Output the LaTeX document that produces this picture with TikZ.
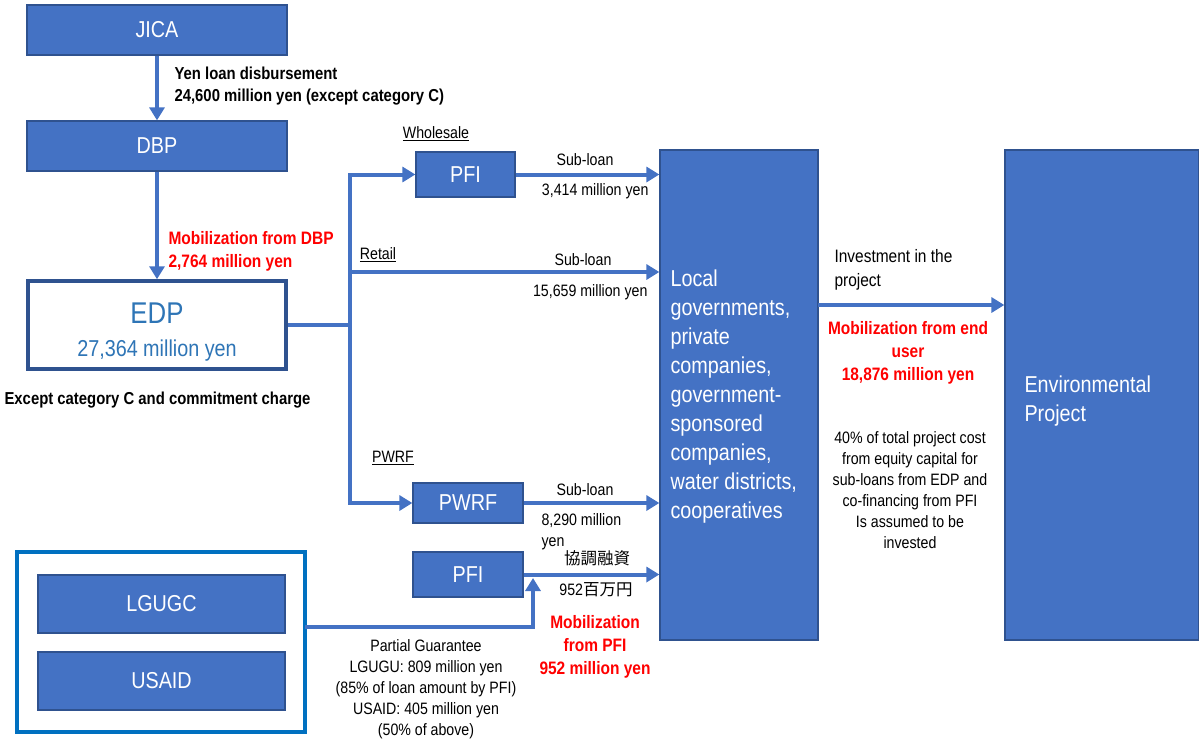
\documentclass[tikz,border=0pt]{standalone}
\usepackage{fontspec}
\setmainfont{Liberation Sans}[FakeStretch=0.86]
\newfontfamily\cjk{Noto Sans CJK JP}
\usetikzlibrary{arrows.meta, positioning, calc}

\definecolor{boxblue}{HTML}{4472C4}
\definecolor{edgeblue}{HTML}{2F528F}
\definecolor{textblue}{HTML}{2E75B6}
\definecolor{frameblue}{HTML}{0070C0}
\definecolor{mobred}{HTML}{FF0000}

\begin{document}
\begin{tikzpicture}[
  x=1pt, y=-1pt,
  org/.style={draw=edgeblue, fill=boxblue, line width=1.3pt, text=white, font=\fontsize{23}{27}\selectfont},
  flow/.style={draw=boxblue, line width=4pt, -{Triangle[length=13pt,width=15pt]}},
  link/.style={draw=boxblue, line width=4pt},
  note/.style={font=\fontsize{16.5}{21}\selectfont, align=center},
  boldnote/.style={font=\bfseries\fontsize{17.3}{22}\selectfont, align=left},
  mob/.style={font=\bfseries\fontsize{18}{23}\selectfont, text=mobred, align=center}
]
\useasboundingbox (0,0) rectangle (1199,742);

% Organisations
\node[org, minimum width=260pt, minimum height=50pt] (jica) at (157,30) {JICA};
\node[org, minimum width=260pt, minimum height=50pt] (dbp) at (157,146) {DBP};
\node[draw=edgeblue, line width=3.5pt, fill=white, minimum width=258pt, minimum height=88pt] (edp) at (157,325) {};
\node[align=center, text=textblue, font=\fontsize{23}{33}\selectfont] (edptxt) at (157,332)
  {{\fontsize{30}{33}\selectfont EDP}\\27,364 million\ yen};
\node[org, minimum width=99pt, minimum height=45pt] (pfiw) at (465.5,174.5) {PFI};
\node[org, minimum width=110pt, minimum height=40pt] (pwrf) at (468,503) {PWRF};
\node[org, minimum width=110pt, minimum height=45pt] (pfic) at (468,574.5) {PFI};
\node[org, minimum width=158pt, minimum height=490pt] (local) at (739,395) {};
\node[org, minimum width=194pt, minimum height=490pt] (env) at (1102,395) {};
\node[draw=frameblue, line width=4pt, fill=white, minimum width=288pt, minimum height=180pt] (guar) at (161,642) {};
\node[org, minimum width=247pt, minimum height=58pt] (lgugc) at (161.5,604) {LGUGC};
\node[org, minimum width=247pt, minimum height=58pt] (usaid) at (161.5,681) {USAID};

% Texts inside the tall boxes
\node[anchor=north west, align=left, text=white, font=\fontsize{23}{29}\selectfont] (localtxt) at (667,266)
  {Local\\governments,\\private\\companies,\\government-\\sponsored\\companies,\\water districts,\\cooperatives};
\node[anchor=west, align=left, text=white, font=\fontsize{23}{29}\selectfont] (envtxt) at (1021,401)
  {Environmental\\Project};

% Branch points
\coordinate (split) at (350,325);
\coordinate (retail) at (350,272);
\coordinate (invest) at (818,305);
\coordinate (gstart) at (305,627);
\coordinate (gend) at (533,578);

% Flows from JICA down to EDP
\draw[flow] (jica) -- (dbp);
\draw[flow] (dbp) -- (edp);

% Flows from EDP to the borrowers
\draw[link] (edp.east |- split) -- (split);
\draw[flow] (split) |- (pfiw);
\draw[flow] (split) |- (pwrf);
\draw[flow] (retail) -- (retail -| local.west);
\draw[flow] (pfiw) -- (pfiw -| local.west);
\draw[flow] (pwrf) -- (pwrf -| local.west);
\draw[flow] (pfic) -- (pfic -| local.west);
\draw[flow] (invest) -- (invest -| env.west);

% Guarantee
\draw[flow] (gstart) -| (gend);

% Labels
\node[boldnote, anchor=west] (lbljica) at (171,86) {Yen loan disbursement\\24,600 million yen (except category C)};
\node[mob, anchor=west, align=left] (lbldbp) at (165,251) {Mobilization from DBP\\2,764 million yen};
\node[boldnote, anchor=west] (lbledp) at (1,400) {Except category C and commitment charge};
\node[note] (lblwhole) at (436,134) {\underline{Wholesale}};
\node[note] (lblretail) at (378,255) {\underline{Retail}};
\node[note] (lblpwrf) at (393,458) {\underline{PWRF}};
\node[note] (sub1) at (585,160) {Sub-loan};
\node[note, anchor=east] (amt1) at (652,191) {3,414 million yen};
\node[note] (sub2) at (583,260) {Sub-loan};
\node[note, anchor=east] (amt2) at (651,292) {15,659 million yen};
\node[note] (sub3) at (585,490) {Sub-loan};
\node[note, anchor=north west, align=left] (amt3) at (538,510) {8,290 million\\yen};
\node[note] (cofin) at (597,558) {\cjk 協調融資};
\node[note] (amt4) at (596,590) {952{\cjk 百万円}};
\node[mob] (lblpfi) at (595,647) {Mobilization\\from PFI\\952 million yen};
\node[note, align=left, anchor=west, font=\fontsize{18}{24}\selectfont] (lblinv) at (831,270) {Investment in the\\project};
\node[mob] (lblend) at (908,353) {Mobilization from end\\user\\18,876 million yen};
\node[note] (lblequity) at (910,490) {40\% of total project cost\\from equity capital for\\sub-loans from EDP and\\co-financing from PFI\\Is assumed to be\\invested};
\node[note] (lblguar) at (426,689) {Partial Guarantee\\LGUGU: 809 million yen\\(85\% of loan amount by PFI)\\USAID: 405 million yen\\(50\% of above)};

\end{tikzpicture}
\end{document}
